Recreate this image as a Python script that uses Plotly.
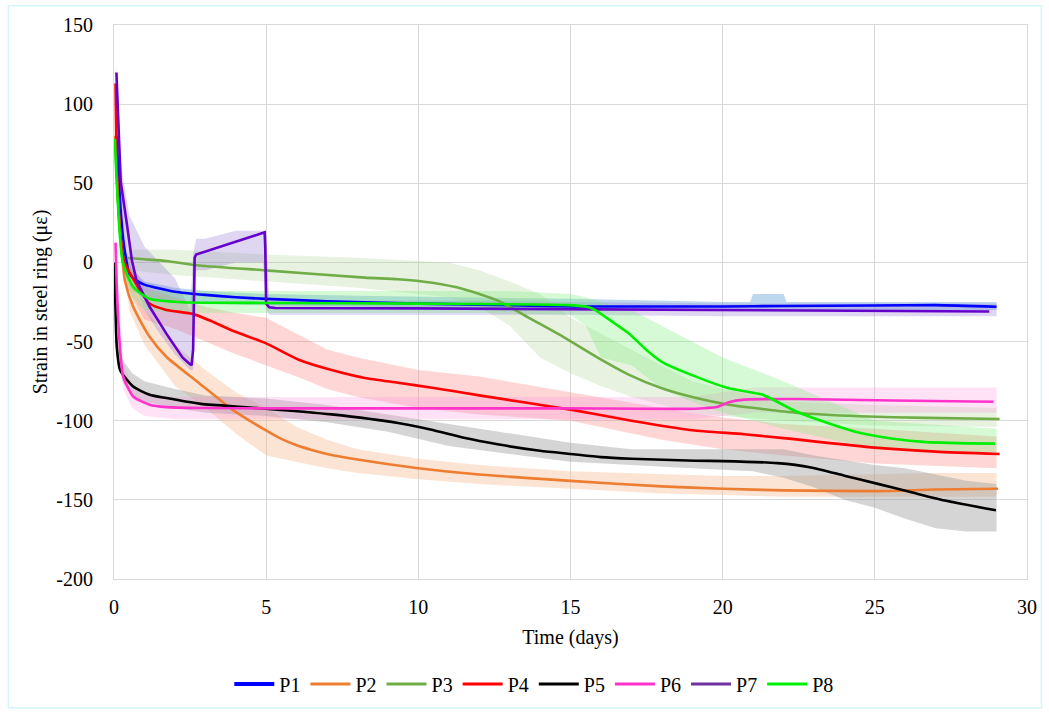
import plotly.graph_objects as go

# ---------------- smoothed strain curves (time in days, strain in µε) ----------------
p1_t = [0.08, 0.15, 0.2, 0.3, 0.4, 0.5, 0.7, 1.0, 1.5, 2, 3, 4, 5, 7, 10, 13, 15, 18, 20, 22, 25, 27, 29.0]
p1_v = [80, 55, 38, 15, 2, -7, -11, -14, -16.5, -18.5, -20.5, -22, -23, -24.5, -26, -27, -27.8, -27.8, -27.8, -27.5, -27.2, -27, -28]

p2_t = [0.03, 0.1, 0.2, 0.36, 0.63, 1.17, 1.72, 2.8, 3.89, 4.98, 5.5, 6, 6.5, 7, 8, 10, 12, 15, 18, 20, 22, 25, 27, 29.05]
p2_v = [80, 50, 20, -11.6, -28, -47, -59.6, -76.3, -93, -106, -111.5, -115.5, -118.5, -121, -124.5, -130, -134, -138, -141.5, -143, -144, -144.5, -143.5, -143]

p3_t = [0.45, 1.0, 1.72, 2.8, 4.98, 8.24, 9.33, 10.4, 11.5, 12.6, 13.7, 14.76, 15.85, 16.93, 18.0, 19.1, 20.2, 21.3, 22.4, 24.5, 26.7, 29.1]
p3_v = [2.8, 2.0, 0.9, -1.9, -5, -9.6, -10.6, -12.7, -16.9, -24, -35.7, -47, -59.6, -71, -79.5, -85.5, -89.9, -92.6, -95, -97.2, -98.2, -98.9]

p4_t = [0.05, 0.1, 0.2, 0.33, 0.62, 1.17, 1.72, 2.58, 3.13, 3.88, 4.98, 6.07, 7.15, 8.24, 9.33, 10.4, 12, 15, 17, 19, 20.7, 22, 25, 27, 29.1]
p4_v = [113, 55, 20, 1, -10, -26, -30, -32.5, -36.5, -43, -51, -61.5, -68, -73, -76, -79, -84, -93, -100, -106, -108.5, -111, -117, -119.5, -121]

p5_t = [0.01, 0.05, 0.09, 0.2, 0.63, 1.17, 1.72, 2.8, 3.89, 4.98, 7.15, 9.33, 10.4, 11.5, 12.6, 14, 15, 16, 17, 19.1, 20, 21.8, 22.9, 24.0, 25.1, 26.2, 27.3, 28.98]
p5_v = [0, -30, -53, -68, -78.4, -83.6, -85.7, -89.2, -90.9, -92.4, -96, -101.4, -105.5, -110.8, -114.9, -119, -121, -123, -124, -125.3, -125.5, -126.8, -129.5, -134.7, -139.9, -145.2, -150.4, -156.6]

p6_t = [0.05, 0.1, 0.2, 0.3, 0.63, 1.17, 1.72, 3, 5, 10, 15, 19.1, 19.8, 20.2, 20.7, 22.4, 25.6, 28.9]
p6_v = [12.5, -20, -55, -72, -84.7, -89.9, -91.4, -92, -92.2, -92.2, -92.2, -92.4, -91.4, -88.4, -86.7, -86.3, -87.2, -88]

p7_t = [0.08, 0.22, 0.41, 0.59, 0.74, 1.17, 1.72, 2.25, 2.45, 2.55, 2.6, 2.62, 2.65, 2.7, 4.95, 4.97, 4.98, 5.0, 5.1, 5.3, 10, 15, 20, 25, 28.76]
p7_v = [120, 51, 26, 1, -11.5, -28, -45, -60, -63.5, -65, -55, -20, 3, 5, 19, 10, -20, -26, -28.4, -28.8, -29, -29.5, -30, -30.5, -31]

p8_t = [0.03, 0.09, 0.28, 0.63, 1.17, 2.25, 5, 10, 14.97, 15.6, 15.84, 16.39, 16.93, 17.48, 18.0, 19.1, 20.2, 21.3, 22.4, 23.45, 24.5, 25.6, 26.7, 28.95]
p8_v = [78, 51, 1, -15.4, -23, -25.2, -25.6, -26, -27, -28.3, -30.4, -37.7, -45, -55, -62.8, -72, -79.5, -83.5, -94, -101.4, -107.6, -111.4, -113.5, -114.5]

# ---------------- spread of the raw readings (lower / upper bounds) ----------------
r1_t = [0.3, 0.6, 1, 2, 3, 5, 8, 12, 15, 20, 20.9, 21.0, 22.0, 22.1, 25, 29]
r1_lo = [-5, -18, -22, -25, -26, -27, -28, -29, -30, -30, -30, -30, -30, -30, -30, -30]
r1_hi = [10, -5, -12, -16, -18, -20, -21, -22, -23, -25, -25, -20, -20, -25, -25, -25]

r2_t = [0.1, 0.5, 1, 2, 3, 4, 5, 6, 7, 8, 10, 12, 15, 18, 20, 22, 25, 27, 29]
r2_lo = [40, -30, -52, -78, -92, -108, -122, -126, -130, -133, -137, -140, -143, -146, -147, -148, -148, -148, -148]
r2_hi = [80, -10, -30, -52, -68, -82, -92, -104, -112, -118, -124, -128, -132, -134, -135, -135, -134, -133, -133]

r3_t = [0.5, 2, 5, 8, 11, 12, 13, 14, 15, 16, 17, 18, 19, 20, 22, 25, 29]
r3_lo = [-5, -8, -12, -16, -22, -28, -40, -60, -70, -78, -85, -90, -95, -97, -100, -103, -104]
r3_hi = [8, 8, 5, 3, 0, -5, -12, -20, -35, -45, -55, -65, -75, -80, -88, -90, -92]

r4_t = [0.1, 0.3, 0.6, 1, 2, 3, 4, 5, 6, 7, 8, 10, 12, 15, 18, 20, 22, 25, 29]
r4_lo = [40, -10, -22, -36, -42, -50, -58, -65, -72, -80, -85, -92, -96, -100, -112, -118, -122, -127, -130]
r4_hi = [100, 10, 0, -16, -22, -28, -32, -35, -45, -55, -60, -68, -72, -82, -92, -98, -102, -105, -110]

r5_t = [0.05, 0.1, 0.3, 0.6, 1, 2, 3, 5, 7, 9, 11, 13, 15, 17, 19, 21, 22, 23, 24, 25, 26, 27, 28, 29]
r5_lo = [-40, -62, -76, -84, -88, -92, -95, -97, -101, -107, -116, -121, -126, -128, -130, -132, -136, -142, -150, -155, -162, -168, -170, -170]
r5_hi = [-20, -48, -62, -70, -75, -80, -84, -86, -90, -96, -102, -108, -114, -118, -118, -118, -118, -122, -125, -128, -130, -134, -138, -140]

r6_t = [0.05, 0.3, 0.6, 1, 2, 5, 10, 15, 19, 20, 21, 25, 29]
r6_lo = [-10, -80, -92, -97, -99, -99, -99, -99, -99, -97, -95, -95, -95]
r6_hi = [15, -64, -78, -83, -85, -85, -85, -85, -85, -82, -79, -79, -79]

r7_t = [0.05, 0.2, 0.5, 1, 1.5, 2, 2.5, 2.6, 2.7, 3, 4, 4.9, 5.0, 5.1, 6, 10, 15, 20, 25, 29]
r7_lo = [100, 35, -5, -30, -45, -58, -68, -68, -5, -5, 0, 0, -30, -33, -33, -33, -33, -34, -34, -34]
r7_hi = [125, 65, 30, 10, 0, -10, -30, 5, 15, 15, 20, 20, 20, -24, -24, -24, -25, -26, -26, -26]

r8_t = [0.05, 0.3, 0.6, 1, 2, 5, 10, 13, 15, 15.5, 16, 17, 18, 19, 20, 22, 25, 29]
r8_lo = [60, -8, -22, -30, -32, -32, -32, -32, -33, -40, -60, -65, -80, -88, -95, -105, -118, -120]
r8_hi = [80, 10, -8, -18, -18, -18, -18, -18, -20, -22, -25, -30, -40, -50, -60, -75, -100, -105]

# axis ticks
x_ticks = [0, 5, 10, 15, 20, 25, 30]
y_ticks = [150, 100, 50, 0, -50, -100, -150, -200]
y_tick_text = ["150", "100", "50", "0", "-50", "-100", "-150", "-200"]

names = ["P1", "P2", "P3", "P4", "P5", "P6", "P7", "P8"]
line_colors = ["#0000ff", "#ed7d31", "#70ad47", "#ff0000", "#000000", "#ff33cc", "#6600cc", "#00ee00"]
legend_colors = ["#0000ff", "#ed7d31", "#70ad47", "#ff0000", "#000000", "#ff33cc", "#7030a0", "#00ee00"]
raw_fill = ["rgba(91,155,213,0.40)", "rgba(244,177,131,0.35)", "rgba(169,209,142,0.28)",
            "rgba(255,120,120,0.30)", "rgba(150,150,150,0.40)", "rgba(255,140,220,0.25)",
            "rgba(150,120,210,0.30)", "rgba(120,240,120,0.30)"]

curves = [(p1_t, p1_v), (p2_t, p2_v), (p3_t, p3_v), (p4_t, p4_v),
          (p5_t, p5_v), (p6_t, p6_v), (p7_t, p7_v), (p8_t, p8_v)]
bands = [(r1_t, r1_lo, r1_hi), (r2_t, r2_lo, r2_hi), (r3_t, r3_lo, r3_hi), (r4_t, r4_lo, r4_hi),
         (r5_t, r5_lo, r5_hi), (r6_t, r6_lo, r6_hi), (r7_t, r7_lo, r7_hi), (r8_t, r8_lo, r8_hi)]

fig = go.Figure()

# raw-reading spread, drawn underneath
for (bt, lo, hi), fc in zip(bands, raw_fill):
    fig.add_trace(go.Scatter(
        x=list(bt) + list(bt)[::-1], y=list(hi) + list(lo)[::-1],
        fill="toself", fillcolor=fc, line=dict(width=0), mode="lines",
        hoverinfo="skip", showlegend=False))

# smoothed curves
for (ct, cv), nm, col in zip(curves, names, line_colors):
    shape = "linear" if nm == "P7" else "spline"
    fig.add_trace(go.Scatter(
        x=ct, y=cv, mode="lines", name=nm, showlegend=False,
        line=dict(color=col, width=2.6, shape=shape, smoothing=0.6)))

# legend entries
for nm, col in zip(names, legend_colors):
    fig.add_trace(go.Scatter(
        x=[None], y=[None], mode="lines", name=nm,
        line=dict(color=col, width=4 if nm == "P1" else 3)))

# plot-area geometry in pixels
W, H = 1049, 715
L, R, T, B = 114, 15, 25, 131
pw, ph = W - L - R, H - T - B


def px_x(p):
    return (p - L) / pw


def px_y(p):
    return (H - B - p) / ph


font = "Liberation Serif, Times New Roman, serif"
grid = "#d9d9d9"

fig.update_layout(
    width=W, height=H,
    margin=dict(l=L, r=R, t=T, b=B, pad=0),
    paper_bgcolor="white", plot_bgcolor="white",
    font=dict(family=font, size=20, color="#000000"),
    showlegend=True,
    legend=dict(orientation="h", x=px_x(537), xanchor="center",
                y=px_y(690), yanchor="middle",
                font=dict(family=font, size=20), itemwidth=40,
                bgcolor="rgba(0,0,0,0)"),
    xaxis=dict(range=[0, 30], tickvals=x_ticks, showgrid=True, gridcolor=grid, gridwidth=1,
               zeroline=False, showline=True, linecolor=grid, mirror=True,
               ticks="outside", ticklen=10, tickcolor="rgba(0,0,0,0)",
               tickfont=dict(family=font, size=20),
               title=dict(text="Time (days)", font=dict(family=font, size=20), standoff=12)),
    yaxis=dict(range=[-200, 150], tickvals=y_ticks, ticktext=y_tick_text,
               showgrid=True, gridcolor=grid, gridwidth=1,
               zeroline=False, showline=True, linecolor=grid, mirror=True,
               ticks="outside", ticklen=16, tickcolor="rgba(0,0,0,0)",
               tickfont=dict(family=font, size=20),
               title=dict(text="Strain in steel ring (με)", font=dict(family=font, size=20), standoff=3)),
    shapes=[dict(type="rect", xref="paper", yref="paper",
                 x0=px_x(7.5), x1=px_x(1048.5), y0=px_y(714), y1=px_y(5.5),
                 line=dict(color="#d4f6f8", width=1.5), fillcolor="rgba(0,0,0,0)", layer="below")],
)

fig.write_html("out.html")
